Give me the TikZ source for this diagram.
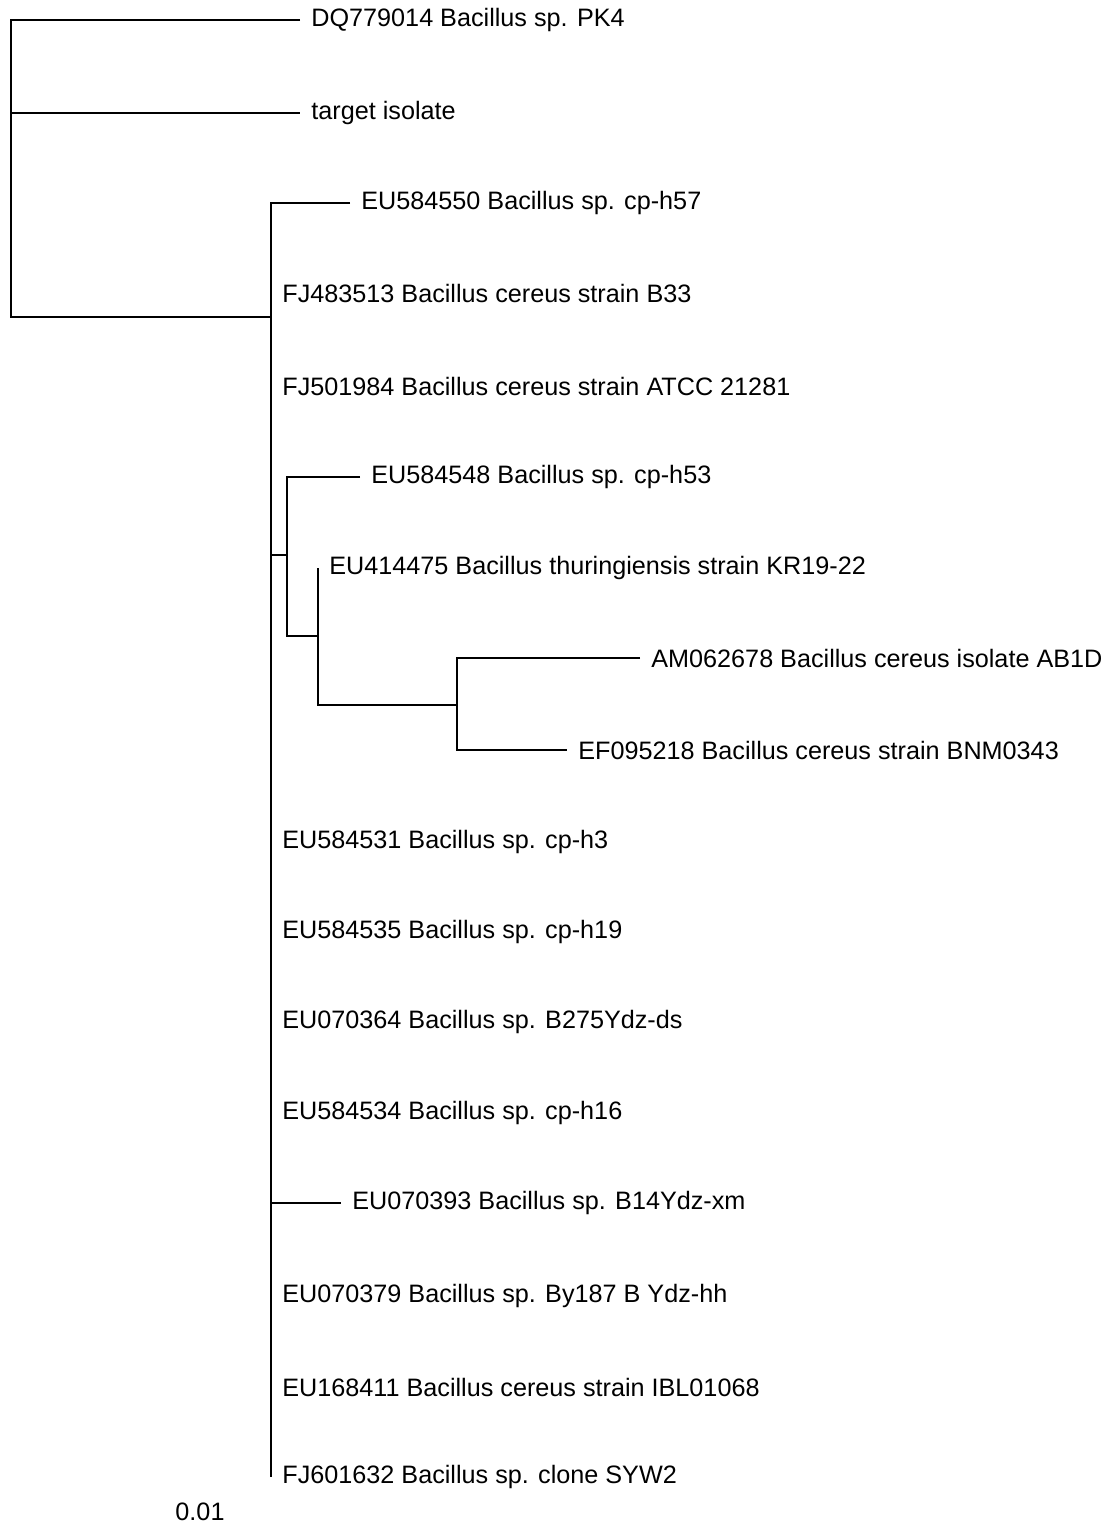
\documentclass[tikz,border=0pt]{standalone}
\usepackage{fontspec}
\setmainfont{Liberation Sans}
\tikzset{
	taxon/.style={anchor=west, inner xsep=5.5pt, inner ysep=0pt, font=\fontsize{12.6}{14}\selectfont},
	branch/.style={line width=1pt}
}
\begin{document}
\begin{tikzpicture}[x=0.5pt, y=-0.5pt]
	\useasboundingbox (0, 0) rectangle (1112, 1523);
	\coordinate (r) at (11, 317);
	\coordinate (c1) at (271, 317);
	\coordinate (c2) at (287, 555);
	\coordinate (c3) at (318, 636);
	\coordinate (c4) at (457, 705);
	\node[taxon] at (300, 20) (1) {DQ779014 Bacillus sp. PK4};
	\node[taxon] at (300, 113) (2) {target isolate};
	\node[taxon] at (350, 203) (3) {EU584550 Bacillus sp. cp-h57};
	\node[taxon] at (271, 293) (4) {FJ483513 Bacillus cereus strain B33};
	\node[taxon] at (271, 386) (5) {FJ501984 Bacillus cereus strain ATCC 21281};
	\node[taxon] at (360, 477) (6) {EU584548 Bacillus sp. cp-h53};
	\node[taxon] at (318, 568) (7) {EU414475 Bacillus thuringiensis strain KR19-22};
	\node[taxon] at (640, 658) (8) {AM062678 Bacillus cereus isolate AB1D};
	\node[taxon] at (567, 750) (9) {EF095218 Bacillus cereus strain BNM0343};
	\node[taxon] at (271, 842) (10) {EU584531 Bacillus sp. cp-h3};
	\node[taxon] at (271, 932) (11) {EU584535 Bacillus sp. cp-h19};
	\node[taxon] at (271, 1022) (12) {EU070364 Bacillus sp. B275Ydz-ds};
	\node[taxon] at (271, 1113) (13) {EU584534 Bacillus sp. cp-h16};
	\node[taxon] at (341, 1203) (14) {EU070393 Bacillus sp. B14Ydz-xm};
	\node[taxon] at (271, 1296) (15) {EU070379 Bacillus sp. By187 B Ydz-hh};
	\node[taxon] at (271, 1387) (16) {EU168411 Bacillus cereus strain IBL01068};
	\node[taxon] at (271, 1477) (17) {FJ601632 Bacillus sp. clone SYW2};
	\node[font=\fontsize{12.6}{14}\selectfont] at (200, 1512) (s) {0.01};
	\draw[branch] (1.west) -| (r) -- (c1);
	\draw[branch] (r |- 2.west) -- (2.west);
	\draw[branch] (3.west) -| (c1) |- (17.west);
	\draw[branch] (c1 |- c2) -- (c2);
	\draw[branch] (6.west) -| (c2) |- (c3);
	\draw[branch] (7.west) -- (c3) |- (c4);
	\draw[branch] (8.west) -| (c4) |- (9.west);
	\draw[branch] (c1 |- 14.west) -- (14.west);
\end{tikzpicture}
\end{document}
